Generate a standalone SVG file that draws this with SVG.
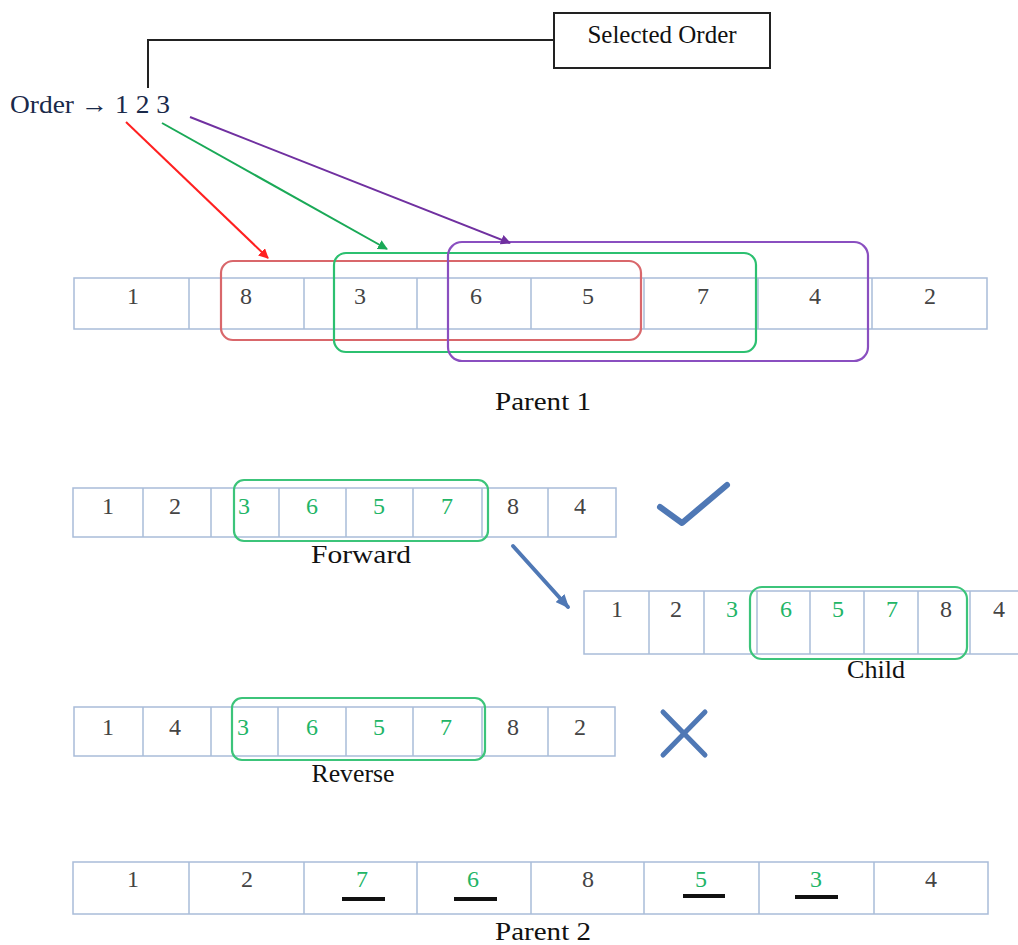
<svg xmlns="http://www.w3.org/2000/svg" width="1018" height="945" viewBox="0 0 1018 945">
<style>
  .cell { fill: #ffffff; stroke: #a9bcd9; stroke-width: 1.5; }
  .sep { stroke: #a9bcd9; stroke-width: 1.5; }
  .num { font-family: "Liberation Serif", serif; font-size: 24px; fill: #444444; text-anchor: middle; }
  .g { fill: #22b566; }
  .lbl { font-family: "Liberation Serif", serif; font-size: 26px; fill: #111111; text-anchor: middle; }
  .grp { fill: none; stroke-width: 2.2; }
  .blue { stroke: #4f78b5; fill: none; stroke-linecap: round; stroke-linejoin: round; }
  .ul { stroke: #111111; stroke-width: 4; }
</style>
<defs>
  <marker id="mRed" markerWidth="10" markerHeight="10" refX="9" refY="5" orient="auto" markerUnits="userSpaceOnUse"><path d="M0,0 L10,5 L0,10 z" fill="#ff2020"/></marker>
  <marker id="mGreen" markerWidth="10" markerHeight="10" refX="9" refY="5" orient="auto" markerUnits="userSpaceOnUse"><path d="M0,0 L10,5 L0,10 z" fill="#1aa957"/></marker>
  <marker id="mPurple" markerWidth="10" markerHeight="10" refX="9" refY="5" orient="auto" markerUnits="userSpaceOnUse"><path d="M0,0 L10,5 L0,10 z" fill="#7030a0"/></marker>
  <marker id="mBlue" markerWidth="14" markerHeight="12" refX="12" refY="6" orient="auto" markerUnits="userSpaceOnUse"><path d="M0,0 L14,6 L0,12 z" fill="#4f78b5"/></marker>
</defs>

<g id="selected-order">
  <rect x="554" y="13" width="216" height="55" fill="#ffffff" stroke="#222222" stroke-width="2"/>
  <text x="662" y="43" class="lbl" style="font-size:25px">Selected Order</text>
</g>

<g id="order">
  <text x="10" y="113" font-family="Liberation Serif, serif" font-size="25" fill="#1a2a4a" textLength="160" lengthAdjust="spacingAndGlyphs">Order → 1 2 3</text>
</g>

<g id="parent1">
  <rect class="cell" x="74" y="278" width="913" height="51"/>
  <line class="sep" x1="189" y1="278" x2="189" y2="329"/>
  <line class="sep" x1="304" y1="278" x2="304" y2="329"/>
  <line class="sep" x1="417" y1="278" x2="417" y2="329"/>
  <line class="sep" x1="531" y1="278" x2="531" y2="329"/>
  <line class="sep" x1="644" y1="278" x2="644" y2="329"/>
  <line class="sep" x1="758" y1="278" x2="758" y2="329"/>
  <line class="sep" x1="872" y1="278" x2="872" y2="329"/>
  <text class="num" x="133" y="304">1</text>
  <text class="num" x="246" y="304">8</text>
  <text class="num" x="360" y="304">3</text>
  <text class="num" x="476" y="304">6</text>
  <text class="num" x="588" y="304">5</text>
  <text class="num" x="703" y="304">7</text>
  <text class="num" x="815" y="304">4</text>
  <text class="num" x="930" y="304">2</text>
  <rect class="grp" x="221" y="261" width="420" height="79" rx="12" stroke="#d9676b"/>
  <rect class="grp" x="334" y="253" width="422" height="99" rx="12" stroke="#2cc070"/>
  <rect class="grp" x="448" y="242" width="420" height="119" rx="14" stroke="#8a4fc0"/>
  <text class="lbl" x="543" y="410" textLength="96" lengthAdjust="spacingAndGlyphs">Parent 1</text>
</g>

<g id="forward">
  <rect class="cell" x="73" y="488" width="543" height="49"/>
  <line class="sep" x1="143" y1="488" x2="143" y2="537"/>
  <line class="sep" x1="211" y1="488" x2="211" y2="537"/>
  <line class="sep" x1="279" y1="488" x2="279" y2="537"/>
  <line class="sep" x1="346" y1="488" x2="346" y2="537"/>
  <line class="sep" x1="413" y1="488" x2="413" y2="537"/>
  <line class="sep" x1="482" y1="488" x2="482" y2="537"/>
  <line class="sep" x1="548" y1="488" x2="548" y2="537"/>
  <text class="num" x="108" y="514">1</text>
  <text class="num" x="175" y="514">2</text>
  <text class="num g" x="244" y="514">3</text>
  <text class="num g" x="312" y="514">6</text>
  <text class="num g" x="379" y="514">5</text>
  <text class="num g" x="447" y="514">7</text>
  <text class="num" x="513" y="514">8</text>
  <text class="num" x="580" y="514">4</text>
  <rect class="grp" x="234" y="480" width="254" height="61" rx="10" stroke="#3cc47a"/>
  <text class="lbl" x="361" y="563" textLength="100" lengthAdjust="spacingAndGlyphs">Forward</text>
</g>

<g id="check">
  <polyline class="blue" points="660,507 682,523 727,485" stroke-width="6"/>
</g>

<g id="child">
  <rect class="cell" x="584" y="591" width="450" height="63"/>
  <line class="sep" x1="649" y1="591" x2="649" y2="654"/>
  <line class="sep" x1="704" y1="591" x2="704" y2="654"/>
  <line class="sep" x1="757" y1="591" x2="757" y2="654"/>
  <line class="sep" x1="810" y1="591" x2="810" y2="654"/>
  <line class="sep" x1="864" y1="591" x2="864" y2="654"/>
  <line class="sep" x1="918" y1="591" x2="918" y2="654"/>
  <line class="sep" x1="970" y1="591" x2="970" y2="654"/>
  <text class="num" x="617" y="617">1</text>
  <text class="num" x="676" y="617">2</text>
  <text class="num g" x="732" y="617">3</text>
  <text class="num g" x="786" y="617">6</text>
  <text class="num g" x="838" y="617">5</text>
  <text class="num g" x="892" y="617">7</text>
  <text class="num" x="946" y="617">8</text>
  <text class="num" x="999" y="617">4</text>
  <rect class="grp" x="750" y="587" width="217" height="72" rx="12" stroke="#3cc47a"/>
  <text class="lbl" x="876" y="678" textLength="58" lengthAdjust="spacingAndGlyphs">Child</text>
</g>

<g id="reverse">
  <rect class="cell" x="74" y="707" width="541" height="49"/>
  <line class="sep" x1="143" y1="707" x2="143" y2="756"/>
  <line class="sep" x1="211" y1="707" x2="211" y2="756"/>
  <line class="sep" x1="278" y1="707" x2="278" y2="756"/>
  <line class="sep" x1="346" y1="707" x2="346" y2="756"/>
  <line class="sep" x1="413" y1="707" x2="413" y2="756"/>
  <line class="sep" x1="482" y1="707" x2="482" y2="756"/>
  <line class="sep" x1="548" y1="707" x2="548" y2="756"/>
  <text class="num" x="108" y="735">1</text>
  <text class="num" x="175" y="735">4</text>
  <text class="num g" x="243" y="735">3</text>
  <text class="num g" x="312" y="735">6</text>
  <text class="num g" x="379" y="735">5</text>
  <text class="num g" x="446" y="735">7</text>
  <text class="num" x="513" y="735">8</text>
  <text class="num" x="580" y="735">2</text>
  <rect class="grp" x="232" y="698" width="253" height="62" rx="10" stroke="#3cc47a"/>
  <text class="lbl" x="353" y="782" textLength="83" lengthAdjust="spacingAndGlyphs">Reverse</text>
</g>

<g id="cross">
  <line class="blue" x1="663" y1="712" x2="705" y2="755" stroke-width="5"/>
  <line class="blue" x1="705" y1="712" x2="663" y2="755" stroke-width="5"/>
</g>

<g id="parent2">
  <rect class="cell" x="73" y="862" width="915" height="52"/>
  <line class="sep" x1="189" y1="862" x2="189" y2="914"/>
  <line class="sep" x1="304" y1="862" x2="304" y2="914"/>
  <line class="sep" x1="417" y1="862" x2="417" y2="914"/>
  <line class="sep" x1="531" y1="862" x2="531" y2="914"/>
  <line class="sep" x1="644" y1="862" x2="644" y2="914"/>
  <line class="sep" x1="759" y1="862" x2="759" y2="914"/>
  <line class="sep" x1="874" y1="862" x2="874" y2="914"/>
  <text class="num" x="133" y="887">1</text>
  <text class="num" x="247" y="887">2</text>
  <text class="num g" x="362" y="887">7</text>
  <text class="num g" x="473" y="887">6</text>
  <text class="num" x="588" y="887">8</text>
  <text class="num g" x="701" y="887">5</text>
  <text class="num g" x="816" y="887">3</text>
  <text class="num" x="931" y="887">4</text>
  <line class="ul" x1="342" y1="899" x2="385" y2="899"/>
  <line class="ul" x1="454" y1="899" x2="497" y2="899"/>
  <line class="ul" x1="683" y1="896" x2="725" y2="896"/>
  <line class="ul" x1="795" y1="897" x2="838" y2="897"/>
  <text class="lbl" x="543" y="940" textLength="96" lengthAdjust="spacingAndGlyphs">Parent 2</text>
</g>

<g id="connectors">
  <polyline points="148,88 148,40 554,40" fill="none" stroke="#222222" stroke-width="2"/>
  <line x1="126" y1="122" x2="268" y2="258" stroke="#ff2020" stroke-width="2" marker-end="url(#mRed)"/>
  <line x1="162" y1="123" x2="387" y2="249" stroke="#1aa957" stroke-width="2" marker-end="url(#mGreen)"/>
  <line x1="190" y1="117" x2="510" y2="243" stroke="#7030a0" stroke-width="2" marker-end="url(#mPurple)"/>
  <line x1="513" y1="546" x2="568" y2="607" stroke="#4f78b5" stroke-width="4" stroke-linecap="round" marker-end="url(#mBlue)"/>
</g>
</svg>
